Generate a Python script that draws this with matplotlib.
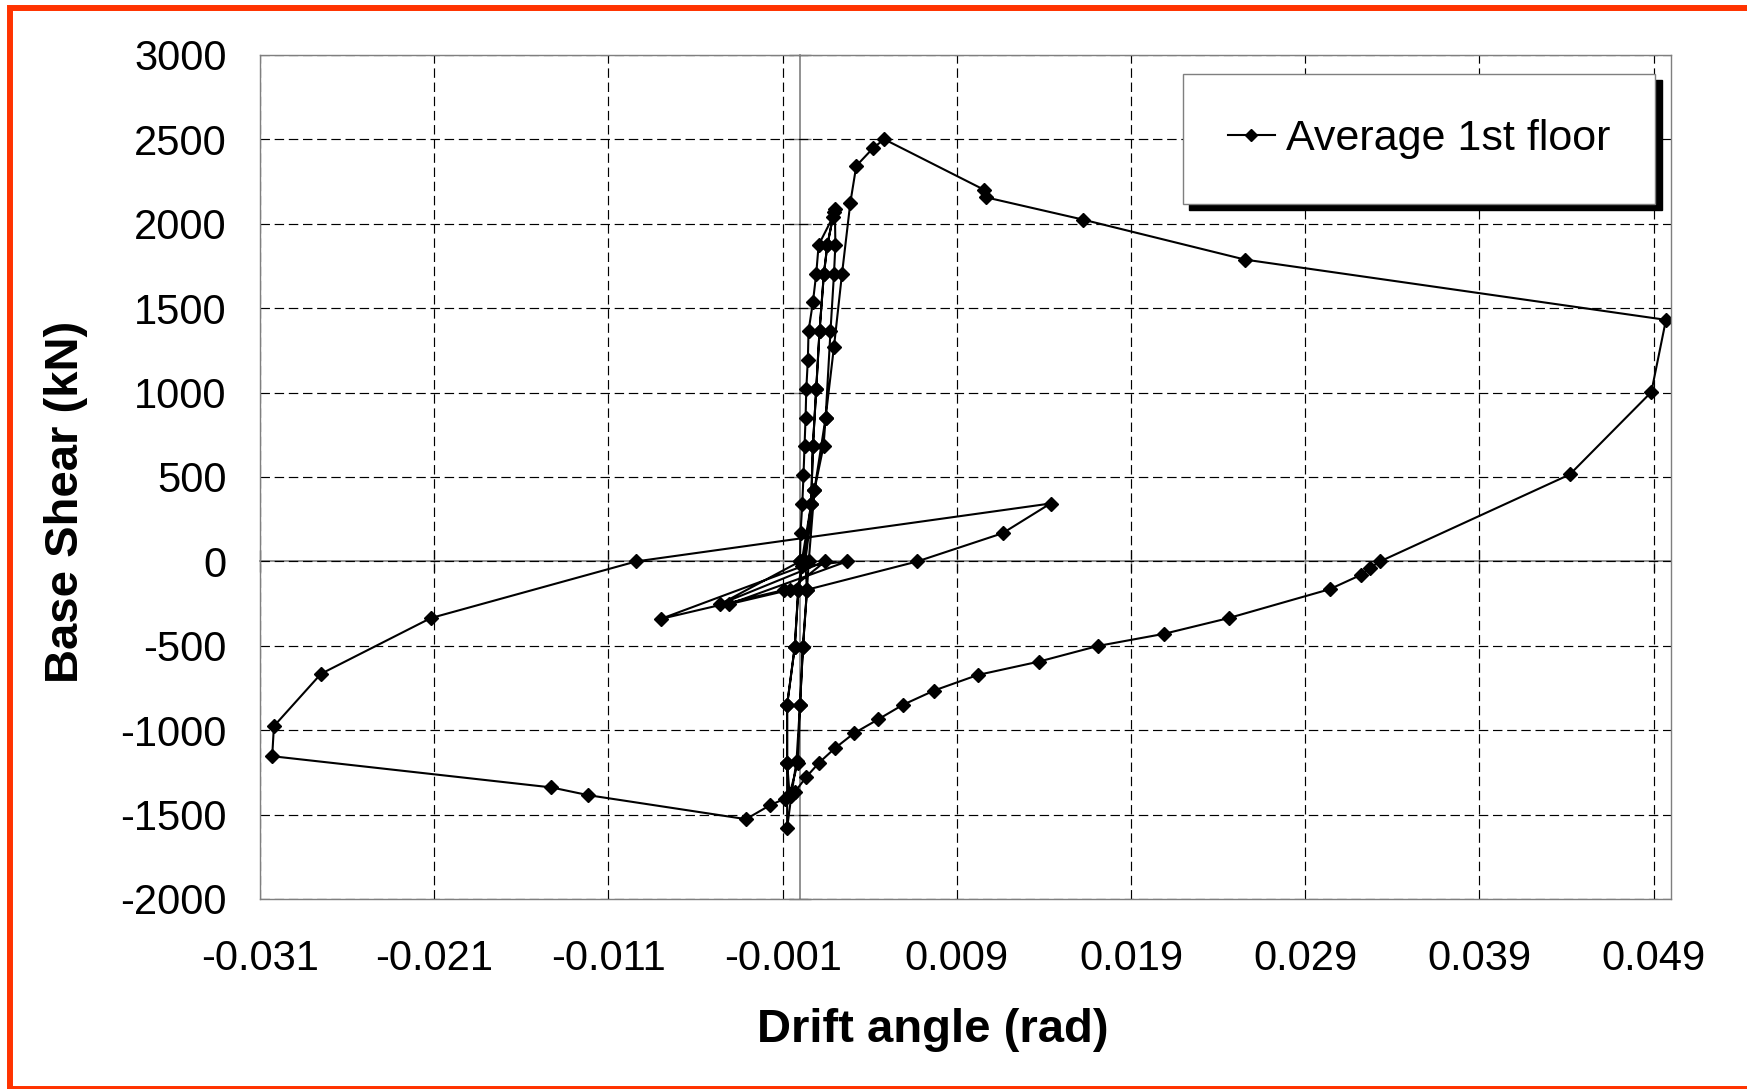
import numpy as np
import matplotlib
matplotlib.use("Agg")
from matplotlib import pyplot as plt
from matplotlib.patches import Rectangle

plt.rcParams['font.family'] = ['Liberation Sans', 'DejaVu Sans']
plt.rcParams['axes.unicode_minus'] = False

# drift angle (rad) and base shear (kN), averaged 1st floor response
drift = [
    # small cycles, first loading
    0.0, 0.00003, 0.00013, 0.0002, 0.00026, 0.00032, 0.00036, 0.00045, 0.00049,
    0.00074, 0.00093, 0.00107, 0.0019,
    0.00157, 0.00137, 0.00112, 0.00093, 0.00074, 0.00064, 0.0002, -0.0001,
    -0.0003, -0.00074, -0.00074, -0.0006,
    -0.00012, 0.0, 0.00017, 0.0004, 0.0003, 0.00083, 0.00135, 0.00147,
    0.00175, 0.00195, 0.00203, 0.0020,
    0.00195, 0.00157, 0.00137, 0.00112, 0.00093, 0.00074, 0.00064, 0.0001,
    -0.0001, -0.0003, -0.00074, -0.00074, -0.00074,
    # final loading to the large cycle
    -0.0005, -0.0002, 0.0, 0.00017, 0.0004, 0.0005, 0.00083, 0.00147,
    0.00195, 0.00241, 0.00289, 0.00323, 0.00419, 0.00483,
    0.01054, 0.01067, 0.01624, 0.02554, 0.04971, 0.04887, 0.04419,
    0.0333, 0.0327, 0.0322, 0.0304, 0.0246, 0.0209, 0.0171, 0.0137, 0.0102,
    0.0077, 0.0059, 0.0045, 0.0031, 0.0020, 0.0011, 0.00036, -0.00028,
    -0.00089, -0.0017, -0.0031,
    -0.01215, -0.01427, -0.0303, -0.0302, -0.0275, -0.0212, -0.0094,
    0.01438, 0.01163, 0.00674, 0.00036,
    # residual small excursions
    -0.0009, -0.0080, 0.0001, 0.0027, -0.0041, -0.0006, 0.00145, -0.0046, 0.0,
]
shear = [
    0, 171, 339, 512, 684, 852, 1020, 1194, 1365,
    1535, 1703, 1875, 2043,
    1875, 1703, 1365, 1020, 684, 339, 0, -169,
    -505, -850, -1192, -1380,
    -1192, -850, -505, -169, 0, 424, 684, 852,
    1365, 1703, 1875, 2090,
    2070, 1875, 1703, 1365, 1020, 684, 339, 0,
    -169, -505, -850, -1192, -1580,
    -1390, -1180, -850, -505, -169, 0, 424, 852,
    1272, 1703, 2126, 2343, 2448, 2501,
    2203, 2157, 2025, 1788, 1431, 1003, 515,
    0, -40, -80, -165, -336, -429, -501, -594, -673,
    -765, -850, -935, -1018, -1107, -1192, -1277, -1364,
    -1407, -1443, -1527,
    -1385, -1339, -1154, -976, -666, -336, 0,
    343, 167, 0, -169,
    -169, -341, -30, 0, -254, -169, 0, -254, 0,
]

x_ticks = np.round(np.arange(-0.031, 0.0495, 0.01), 3)
x_labels = ["%.3f" % v for v in x_ticks]
y_ticks = np.arange(-2000, 3001, 500)
x_min, x_max = -0.031, 0.050
y_min, y_max = -2000, 3000

W, H = 1747, 1089
fig = plt.figure(figsize=(W / 100, H / 100), dpi=100)
pos = [260 / W, 1 - 899 / H, (1671 - 260) / W, (899 - 55) / H]

# axes carrying the zero lines (Excel style axes crossing at 0)
ax0 = fig.add_axes(pos, zorder=1)
ax0.set_xlim(x_min, x_max)
ax0.set_ylim(y_min, y_max)
for s in ['top', 'right']:
    ax0.spines[s].set_visible(False)
ax0.spines['left'].set_position(('data', 0))
ax0.spines['bottom'].set_position(('data', 0))
for s in ['left', 'bottom']:
    ax0.spines[s].set_color('#7f7f7f')
    ax0.spines[s].set_linewidth(1.2)
ax0.set_xticks(x_ticks)
ax0.set_yticks(y_ticks)
ax0.tick_params(direction='inout', length=16, width=1.0, color='#7f7f7f',
                labelleft=False, labelbottom=False)

ax = fig.add_axes(pos, zorder=2)
ax.patch.set_visible(False)
ax.set_xlim(x_min, x_max)
ax.set_ylim(y_min, y_max)
ax.set_xticks(x_ticks)
ax.set_xticklabels(x_labels)
ax.set_yticks(y_ticks)
ax.tick_params(length=0, labelsize=30)
ax.tick_params(axis='y', pad=24)
ax.tick_params(axis='x', pad=29)
for s in ax.spines.values():
    s.set_color('#7f7f7f')
    s.set_linewidth(1.0)
ax.grid(True, color='black', linestyle=(0, (8, 4)), linewidth=0.85)

ax.plot(drift, shear, color='black', linewidth=1.5, marker='D',
        markersize=7.5, label='Average 1st floor')

leg = ax.legend(loc='center', bbox_to_anchor=((1419 - 260) / 1411, (899 - 139) / 844),
                fontsize=31, frameon=True, fancybox=False, borderpad=1.05,
                handlelength=1.1, handletextpad=0.25, markerscale=0.8,
                shadow={'ox': 4.5, 'oy': -4.5, 'color': 'black', 'alpha': 1})
leg.get_frame().set_edgecolor('#7f7f7f')
leg.get_frame().set_linewidth(1.0)

fig.text(933 / W, 1 - 1042 / H, 'Drift angle (rad)', fontsize=34,
         fontweight='bold', ha='center', va='baseline')
fig.text(66 / W, 1 - 502 / H, 'Base Shear (kN)', fontsize=34,
         fontweight='bold', ha='center', va='center', rotation=90)

# orange frame around the figure
fig.add_artist(Rectangle((10.3 / W, 0.5 / H), (1800 - 10.3) / W, (1088.5 - 8) / H,
                         transform=fig.transFigure, fill=False,
                         edgecolor='#ff3300', linewidth=4.3))

plt.savefig('out.png', dpi=100)
